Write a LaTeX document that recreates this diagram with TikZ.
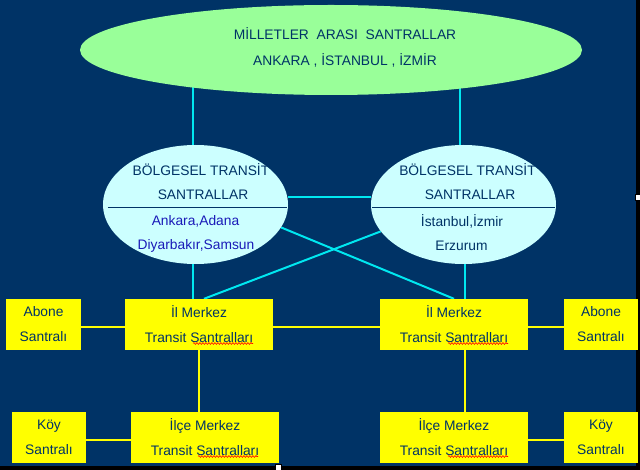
\documentclass[tikz,border=0pt]{standalone}
\usepackage{fontspec}
\setmainfont{Liberation Sans}
\usetikzlibrary{calc,backgrounds,decorations.pathmorphing,shapes.geometric}
\definecolor{bgnavy}{HTML}{003366}
\definecolor{txtnavy}{HTML}{003366}
\definecolor{txtblue}{HTML}{1A1AB8}
\definecolor{lightgreen}{HTML}{99FF99}
\definecolor{lightcyan}{HTML}{CCFFFF}
\definecolor{linecyan}{HTML}{00E8F0}
\definecolor{boxyellow}{HTML}{FFFF00}
\begin{document}
\begin{tikzpicture}[x=1pt,y=-1pt,
  lbl/.style={font=\fontsize{13.8}{25}\selectfont, text=txtnavy, inner sep=0pt, align=center},
  ybox/.style={rectangle, fill=boxyellow, minimum width=#1, minimum height=51pt, inner sep=0pt,
    align=center, font=\fontsize{13.8}{25}\selectfont, text=txtnavy},
  oval/.style={ellipse, fill=lightcyan, minimum width=185pt, minimum height=119pt, inner sep=0pt},
  cyanline/.style={draw=linecyan, line width=2pt},
  yline/.style={draw=boxyellow, line width=2pt},
  divider/.style={draw=txtnavy, line width=1pt},
  spell/.style={draw=red, line width=0.6pt, decorate, decoration={snake, amplitude=0.9pt, segment length=3pt}},
  handle/.style={fill=white, draw=black, line width=0.5pt}
]
\useasboundingbox (0,0) rectangle (640,470);
\begin{scope}[on background layer]
  \fill[black] (0,0) rectangle (640,470);
  \fill[bgnavy] (0,0) rectangle (636,466);
\end{scope}

% ellipses
\node[ellipse, fill=lightgreen, minimum width=502pt, minimum height=90pt, inner sep=0pt] (top) at (331,50) {};
\node[lbl] (topa) at (345,34) {MİLLETLER~~ARASI~~SANTRALLAR};
\node[lbl] (topb) at (345,60) {ANKARA , İSTANBUL , İZMİR};

\node[oval] (lb) at (195.5,204.5) {};
\node[oval] (rb) at (463.5,204.5) {};
\node[lbl] (lb1) at (201,170) {BÖLGESEL TRANSİT};
\node[lbl] (lb2) at (203,195) {SANTRALLAR};
\node[lbl, text=txtblue] (lb3) at (195.5,221) {Ankara,Adana};
\node[lbl, text=txtblue] (lb4) at (196,246) {Diyarbakır,Samsun};
\node[lbl] (rb1) at (467.5,170) {BÖLGESEL TRANSİT};
\node[lbl] (rb2) at (470,195) {SANTRALLAR};
\node[lbl] (rb3) at (462,221) {İstanbul,İzmir};
\node[lbl] (rb4) at (461.5,246) {Erzurum};
\draw[divider] ($(lb.west)+(5,3.5)$) -- ($(lb.east)+(-1,3.5)$);
\draw[divider] ($(rb.west)+(1,3.5)$) -- ($(rb.east)+(-1,3.5)$);

% boxes
\node[ybox=75pt] (ab1) at (43.5,324.5) {Abone\\Santralı};
\node[ybox=148pt] (il1) at (199,324.5) {İl Merkez\\Transit Santralları};
\node[ybox=148pt] (il2) at (454,324.5) {İl Merkez\\Transit Santralları};
\node[ybox=74pt] (ab2) at (601,324.5) {Abone\\Santralı};
\node[ybox=74pt] (ky1) at (49,437.5) {Köy\\Santralı};
\node[ybox=148pt] (ic1) at (205,437.5) {İlçe Merkez\\Transit Santralları};
\node[ybox=148pt] (ic2) at (454,437.5) {İlçe Merkez\\Transit Santralları};
\node[ybox=74pt] (ky2) at (601,437.5) {Köy\\Santralı};

% spell-check underlines
\draw[spell] ($(il1.center)+(-6,19)$) -- ($(il1.center)+(54,19)$);
\draw[spell] ($(il2.center)+(-6,19)$) -- ($(il2.center)+(54,19)$);
\draw[spell] ($(ic1.center)+(-7,19)$) -- ($(ic1.center)+(53,19)$);
\draw[spell] ($(ic2.center)+(-6,19)$) -- ($(ic2.center)+(54,19)$);

% connectors
\begin{scope}[on background layer]
  \draw[cyanline] ([xshift=-2.5pt]lb.north) -- ([xshift=-2.5pt]lb.north |- top.center);
  \draw[cyanline] ([xshift=-3.5pt]rb.north) -- ([xshift=-3.5pt]rb.north |- top.center);
  \draw[cyanline] ([yshift=7pt]lb.east) -- ([yshift=7pt]rb.west);
  \draw[cyanline] ([xshift=-2.5pt]lb.south) -- ([xshift=-2.5pt]lb.south |- il1.north);
  \draw[cyanline] ([xshift=1.5pt]rb.south) -- ([xshift=1.5pt]rb.south |- il2.north);
  \draw[cyanline] (lb.-15) -- (il2.north);
  \draw[cyanline] (rb.198) -- ([xshift=5pt]il1.north);
  \draw[yline] ([yshift=-2.5pt]ab1.east) -- ([yshift=-2.5pt]il1.west);
  \draw[yline] ([yshift=-2.5pt]il1.east) -- ([yshift=-2.5pt]il2.west);
  \draw[yline] ([yshift=-2.5pt]il2.east) -- ([yshift=-2.5pt]ab2.west);
  \draw[yline] (il1.south) -- (ic1.north -| il1.south);
  \draw[yline] ([xshift=11pt]il2.south) -- ([xshift=11pt]ic2.north);
  \draw[yline] ([yshift=-2.5pt]ky1.east) -- ([yshift=-2.5pt]ic1.west);
  \draw[yline] ([yshift=-2.5pt]ic2.east) -- ([yshift=-2.5pt]ky2.west);
\end{scope}

% selection handles
\draw[handle] (635,194) rectangle (640,200);
\draw[handle] (275,464) rectangle (281,470);
\end{tikzpicture}
\end{document}
